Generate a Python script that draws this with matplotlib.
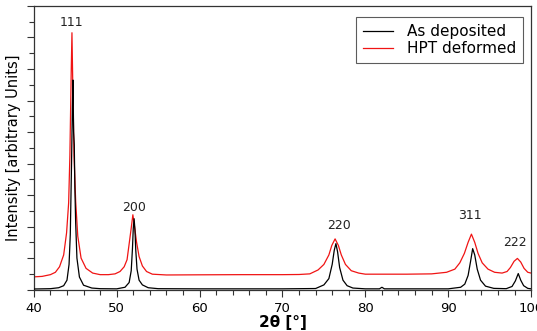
import matplotlib.pyplot as plt
from matplotlib.ticker import MultipleLocator

# Difratograma (2theta em graus, intensidade em unidades arbitrarias)
x_dep = [40.0, 41.0, 42.0, 43.0, 43.6, 44.0, 44.25, 44.4, 44.55, 44.65, 44.72, 44.8, 44.88,
         44.95, 45.05, 45.2, 45.5, 46.0, 47.0, 48.0, 50.0, 51.0, 51.5, 51.75, 51.9, 52.0,
         52.1, 52.2, 52.3, 52.45, 52.7, 53.1, 53.8, 55.0, 60.0, 65.0, 70.0, 74.0, 75.0,
         75.6, 76.0, 76.25, 76.45, 76.65, 76.9, 77.3, 77.8, 78.5, 80.0, 81.7, 82.0, 82.3,
         85.0, 90.0, 91.5, 92.0, 92.4, 92.7, 92.95, 93.2, 93.5, 93.9, 94.5, 95.5, 97.0,
         97.7, 98.1, 98.45, 98.75, 99.1, 99.6, 100.0]
y_dep = [0.04, 0.05, 0.06, 0.12, 0.25, 0.6, 1.6, 3.5, 8.0, 11.5, 13.3, 10.0, 9.2,
         6.5, 4.2, 2.0, 0.8, 0.28, 0.1, 0.06, 0.05, 0.15, 0.45, 1.2, 2.6, 3.9,
         4.5, 3.8, 2.5, 1.3, 0.6, 0.3, 0.12, 0.06, 0.05, 0.05, 0.05, 0.07, 0.3,
         0.7, 1.6, 2.5, 2.92, 2.4, 1.4, 0.6, 0.25, 0.1, 0.05, 0.05, 0.15, 0.05,
         0.05, 0.05, 0.15, 0.35, 0.9, 1.8, 2.6, 2.2, 1.3, 0.6, 0.22, 0.08, 0.06,
         0.2, 0.55, 1.02, 0.6, 0.25, 0.08, 0.05]

x_hpt = [40.0, 41.0, 42.0, 42.6, 43.1, 43.6, 43.95, 44.2, 44.35, 44.5, 44.6, 44.7, 44.85,
         45.05, 45.3, 45.7, 46.3, 47.1, 48.0, 49.0, 49.8, 50.4, 50.9, 51.25, 51.5, 51.75,
         51.95, 52.15, 52.4, 52.7, 53.1, 53.6, 54.3, 56.0, 60.0, 65.0, 70.0, 72.0, 73.3,
         74.3, 75.0, 75.6, 75.95, 76.35, 76.75, 77.1, 77.6, 78.3, 79.2, 80.0, 85.0, 88.0,
         89.8, 90.8, 91.4, 91.95, 92.4, 92.8, 93.2, 93.6, 94.1, 94.8, 95.6, 96.5, 97.1,
         97.5, 97.95, 98.35, 98.75, 99.15, 99.6, 100.0]
y_hpt = [0.81, 0.84, 0.95, 1.1, 1.45, 2.2, 3.6, 5.5, 8.5, 13.5, 16.3, 13.0, 8.5,
         5.6, 3.4, 2.0, 1.35, 1.05, 0.95, 0.95, 1.0, 1.15, 1.45, 1.9, 2.9, 3.9,
         4.75, 4.0, 3.0, 2.1, 1.5, 1.15, 0.98, 0.93, 0.94, 0.95, 0.95, 0.96, 1.0,
         1.25, 1.6, 2.2, 2.8, 3.22, 2.8, 2.2, 1.6, 1.2, 1.05, 0.98, 0.98, 1.0,
         1.1, 1.3, 1.7, 2.3, 3.0, 3.52, 3.0, 2.3, 1.7, 1.3, 1.1, 1.05, 1.15,
         1.4, 1.8, 1.98, 1.75, 1.35, 1.1, 1.05]

# Indices de Miller dos picos
hkl = ["111", "200", "220", "311", "222"]
hkl_x = [44.6, 52.15, 76.8, 92.6, 98.1]
hkl_y = [16.95, 5.2, 4.1, 4.7, 3.0]

fig = plt.figure(figsize=(5.37, 3.31), dpi=100)
ax = fig.add_axes([0.063, 0.125, 0.926, 0.857])

ax.plot(x_dep, y_dep, color="black", lw=0.9, label="As deposited", zorder=3)
ax.plot(x_hpt, y_hpt, color="#f01414", lw=0.9, label="HPT deformed", zorder=2)

for lab, xx, yy in zip(hkl, hkl_x, hkl_y):
    ax.text(xx, yy, lab, ha="center", va="center", fontsize=9, color="#222222")

ax.set_xlim(40, 100)
ax.set_ylim(0, 18)
ax.xaxis.set_major_locator(MultipleLocator(10))
ax.xaxis.set_minor_locator(MultipleLocator(2))
ax.yaxis.set_major_locator(MultipleLocator(2))
ax.yaxis.set_minor_locator(MultipleLocator(1))
ax.tick_params(which="major", length=5, width=0.8, color="#333333", labelsize=9.5, pad=4)
ax.tick_params(which="minor", length=3.5, width=0.8, color="#333333")
ax.set_yticklabels([])
for s in ax.spines.values():
    s.set_color("#333333")
    s.set_linewidth(0.9)

ax.set_xlabel("2θ [°]", fontsize=11, fontweight="bold", labelpad=0)
ax.set_ylabel("Intensity [arbitrary Units]", fontsize=10.5, labelpad=0)

leg = ax.legend(loc="upper right", bbox_to_anchor=(0.984, 0.961), fontsize=11,
                frameon=True, fancybox=False, handlelength=2.0, borderaxespad=0,
                borderpad=0.45, labelspacing=0.15, handletextpad=0.9)
leg.get_frame().set_edgecolor("#333333")
leg.get_frame().set_linewidth(0.8)

fig.savefig("out.png", dpi=100)
